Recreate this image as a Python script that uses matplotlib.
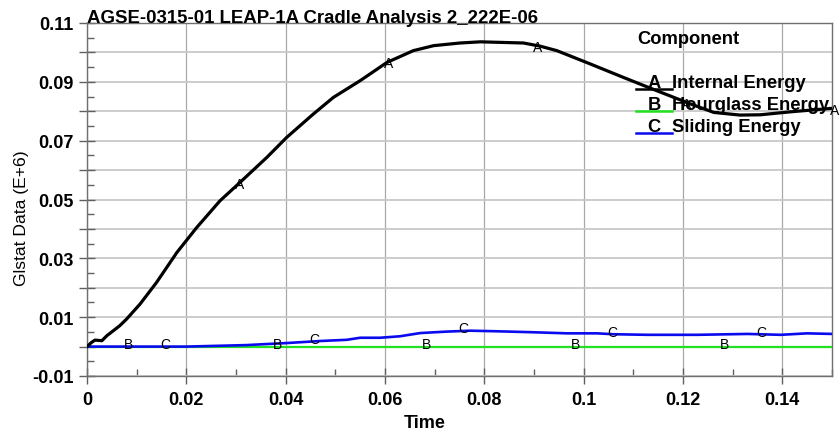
import numpy as np
import matplotlib.pyplot as plt
from matplotlib.ticker import MultipleLocator

plt.rcParams['font.family'] = ['Liberation Sans', 'DejaVu Sans']

# Internal energy (A)
t_int = [0, 0.0009, 0.0016, 0.0030, 0.0040, 0.0066, 0.0080, 0.0107, 0.0140, 0.0181,
         0.0221, 0.0268, 0.0308, 0.0362, 0.0402, 0.0456, 0.0496, 0.0550, 0.0604, 0.0657,
         0.0698, 0.0751, 0.0792, 0.0879, 0.0913, 0.0946, 0.1013, 0.1080, 0.1147, 0.1215,
         0.1262, 0.1315, 0.1356, 0.1416, 0.1500]
e_int = [0, 0.0014, 0.0022, 0.0020, 0.0037, 0.0071, 0.0094, 0.0145, 0.0218, 0.0320,
         0.0405, 0.0496, 0.0558, 0.0643, 0.0711, 0.0791, 0.0847, 0.0904, 0.0966, 0.1006,
         0.1023, 0.1032, 0.1036, 0.1032, 0.1021, 0.1006, 0.0961, 0.0915, 0.0870, 0.0825,
         0.0796, 0.0787, 0.0788, 0.0798, 0.0810]

# Hourglass energy (B)
t_hg = [0, 0.15]
e_hg = [0, 0]

# Sliding energy (C)
t_sld = [0, 0.020, 0.032, 0.0402, 0.047, 0.0523, 0.055, 0.059, 0.063, 0.0671, 0.0725,
         0.0772, 0.0826, 0.0893, 0.0967, 0.1027, 0.106, 0.1128, 0.1229, 0.133, 0.1397,
         0.145, 0.150]
e_sld = [0, 0, 0.0005, 0.0012, 0.0019, 0.0023, 0.0030, 0.0030, 0.0035, 0.0046, 0.0051,
         0.0054, 0.0052, 0.0049, 0.0045, 0.0045, 0.0042, 0.0040, 0.0040, 0.0043, 0.0040,
         0.0045, 0.0043]

# where the curve letters sit
lab_A = [0.0308, 0.0608, 0.0908, 0.1208, 0.1505]
lab_B = [0.0083, 0.0383, 0.0683, 0.0983, 0.1283]
lab_C = [0.0157, 0.0457, 0.0757, 0.1057, 0.1357]

names = ['Internal Energy', 'Hourglass Energy', 'Sliding Energy']
letters = ['A', 'B', 'C']
colors = ['black', '#22e022', '#0a0aee']

title = 'AGSE-0315-01 LEAP-1A Cradle Analysis 2_222E-06'

fig = plt.figure(figsize=(8.4, 4.35), dpi=100)
ax = fig.add_axes([87/840, 58/435, 745/840, 353/435])

ax.plot(t_int, e_int, color=colors[0], lw=2.3, zorder=4)
ax.plot(t_hg, e_hg, color=colors[1], lw=1.6, zorder=3)
ax.plot(t_sld, e_sld, color=colors[2], lw=1.9, zorder=3)

for let, xs, ts, es, off in [('A', lab_A, t_int, e_int, -4), ('B', lab_B, t_hg, e_hg, -1),
                             ('C', lab_C, t_sld, e_sld, -1)]:
    for x in xs:
        y = np.interp(x, ts, es)
        ax.annotate(let, (x, y), xytext=(0, off), textcoords='offset points',
                    ha='center', va='baseline', fontsize=10, zorder=5,
                    annotation_clip=False)

ax.set_xlim(0, 0.15)
ax.set_ylim(-0.01, 0.11)
ax.set_xticks(np.arange(0, 0.141, 0.02))
ax.set_xticklabels(['0', '0.02', '0.04', '0.06', '0.08', '0.1', '0.12', '0.14'])
ax.xaxis.set_minor_locator(MultipleLocator(0.01))
yt = np.arange(-0.01, 0.1101, 0.01)
ax.set_yticks(yt)
ax.set_yticklabels([('%.2f' % v) if i % 2 == 0 else '' for i, v in enumerate(yt)])
ax.yaxis.set_minor_locator(MultipleLocator(0.005))

ax.tick_params(which='major', direction='inout', length=11, width=1, color='#606060',
               labelsize=13, pad=4)
ax.tick_params(which='minor', direction='in', length=5, width=1, color='#606060')
for lab in ax.get_xticklabels() + ax.get_yticklabels():
    lab.set_fontweight('bold')
ax.tick_params(axis='x', pad=5)

ax.grid(True, axis='y', color='#c8c8c8', lw=1.3)
ax.grid(True, axis='x', color='#a8a8a8', lw=0.9)
ax.set_axisbelow(True)
for s in ax.spines.values():
    s.set_color('#707070')
    s.set_linewidth(1)

fig.text(87/840, 1 - 23/435, title, fontsize=13.4, fontweight='bold', ha='left', va='baseline')
fig.text(22/840, 1 - 218/435, 'Glstat Data (E+6)', fontsize=12.6, rotation=90, ha='center', va='center')
fig.text(425/840, 1 - 424/435, 'Time', fontsize=13, fontweight='bold', ha='center', va='center')

# legend block
fig.text(637/840, 1 - 40/435, 'Component', fontsize=13.2, fontweight='bold', ha='left', va='center')
for i in range(3):
    yc = 83 + 22 * i
    fig.text(654/840, 1 - yc/435, letters[i], fontsize=13.2, fontweight='bold', ha='center',
             va='center', zorder=6)
    fig.text(672/840, 1 - yc/435, names[i], fontsize=13.2, fontweight='bold', ha='left',
             va='center', zorder=6)
    fig.add_artist(plt.Line2D([636/840, 672/840], [1 - (yc + 6.5)/435] * 2,
                              color=colors[i], lw=1.8))

fig.savefig('out.png', dpi=100)
